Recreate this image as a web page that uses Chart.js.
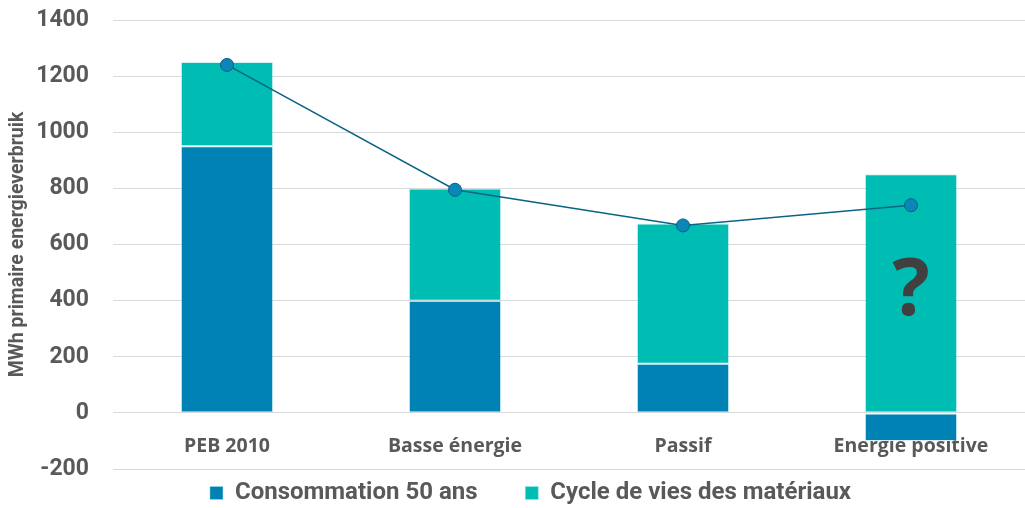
<!DOCTYPE html>
<html>
<head>
<meta charset="utf-8">
<script src="https://cdn.jsdelivr.net/npm/chart.js@4/dist/chart.umd.min.js"></script>
<style>
  html, body { margin: 0; padding: 0; background: #fff; }
  #wrap { width: 1025px; height: 508px; position: relative; }
</style>
</head>
<body>
<div id="wrap"><canvas id="energy_chart"></canvas></div>
<script>
const categories = ["PEB 2010", "Basse énergie", "Passif", "Energie positive"];
const consumption = [950, 400, 175, -100];
const materials = [300, 400, 500, 850];
const totalLine = [1240, 795, 668, 740];
const yTicks = { min: -200, max: 1400, step: 200 };
const markIndex = 3;
const markValue = 428;
const markText = "?";

const grey = "#595959";

const questionMark = {
  id: "questionMark",
  afterDatasetsDraw(chart) {
    const { ctx, scales: { x, y } } = chart;
    ctx.save();
    ctx.font = 'bold 78px "Open Sans"';
    ctx.fillStyle = "#404040";
    ctx.textAlign = "center";
    ctx.textBaseline = "middle";
    ctx.fillText(markText, x.getPixelForValue(markIndex), y.getPixelForValue(markValue));
    ctx.restore();
  },
};

new Chart("energy_chart", {
  type: "bar",
  data: {
    labels: categories,
    datasets: [
      {
        type: "line",
        label: "Totaal",
        data: totalLine,
        stack: "line",
        order: 0,
        borderColor: "#0b6485",
        borderWidth: 1.5,
        pointRadius: 6.5,
        pointBackgroundColor: "#0a87b8",
        pointBorderColor: "#0b5f80",
        pointBorderWidth: 1,
        tension: 0,
      },
      {
        label: "Consommation 50 ans",
        data: consumption,
        stack: "bars",
        order: 1,
        backgroundColor: "#0083b4",
        borderColor: "rgba(160,225,232,0.45)",
        borderWidth: 1,
        borderSkipped: false,
      },
      {
        label: "Cycle de vies des matériaux",
        data: materials,
        stack: "bars",
        order: 1,
        backgroundColor: "#00bdb3",
        borderColor: "rgba(160,232,232,0.45)",
        borderWidth: 1,
        borderSkipped: false,
      },
    ],
  },
  options: {
    responsive: true,
    maintainAspectRatio: false,
    animation: false,
    layout: { autoPadding: false, padding: { top: 20, right: 0, bottom: -7, left: 36 } },
    datasets: { bar: { categoryPercentage: 1, barPercentage: 0.405 } },
    plugins: {
      tooltip: { enabled: false },
      legend: {
        position: "bottom",
        labels: {
          filter: (item) => item.datasetIndex !== 0,
          generateLabels: (chart) =>
            Chart.defaults.plugins.legend.labels.generateLabels(chart).map((l, i) =>
              i === 1 ? { ...l, text: l.text + "      " } : l
            ),
          boxWidth: 13,
          boxHeight: 13,
          padding: 12,
          color: grey,
          font: { family: "Roboto", weight: "bold", size: 24 },
        },
      },
    },
    scales: {
      x: {
        stacked: true,
        position: { y: 0 },
        afterFit: (scale) => {
          scale.height = 0;
          scale.paddingLeft = 0;
          scale.paddingRight = 0;
        },
        grid: { display: false },
        border: { display: false },
        ticks: {
          padding: 14,
          color: grey,
          font: { family: "Open Sans", weight: "bold", size: 19.5 },
        },
      },
      y: {
        stacked: true,
        min: yTicks.min,
        max: yTicks.max,
        afterFit: (scale) => {
          scale.width = 77;
          scale.paddingTop = 0;
          scale.paddingBottom = 0;
        },
        grid: { color: "#d9d9d9", lineWidth: 1, drawTicks: false },
        border: { display: false },
        ticks: {
          stepSize: yTicks.step,
          padding: 24,
          color: grey,
          font: { family: "Roboto", weight: "bold", size: 23 },
          callback: (v) => String(v),
        },
        title: {
          display: true,
          text: "MWh primaire energieverbruik",
          color: grey,
          padding: { top: -30, bottom: 0 },
          font: { family: "Roboto", weight: "bold", size: 19.5 },
        },
      },
    },
  },
  plugins: [questionMark],
});
</script>
</body>
</html>
